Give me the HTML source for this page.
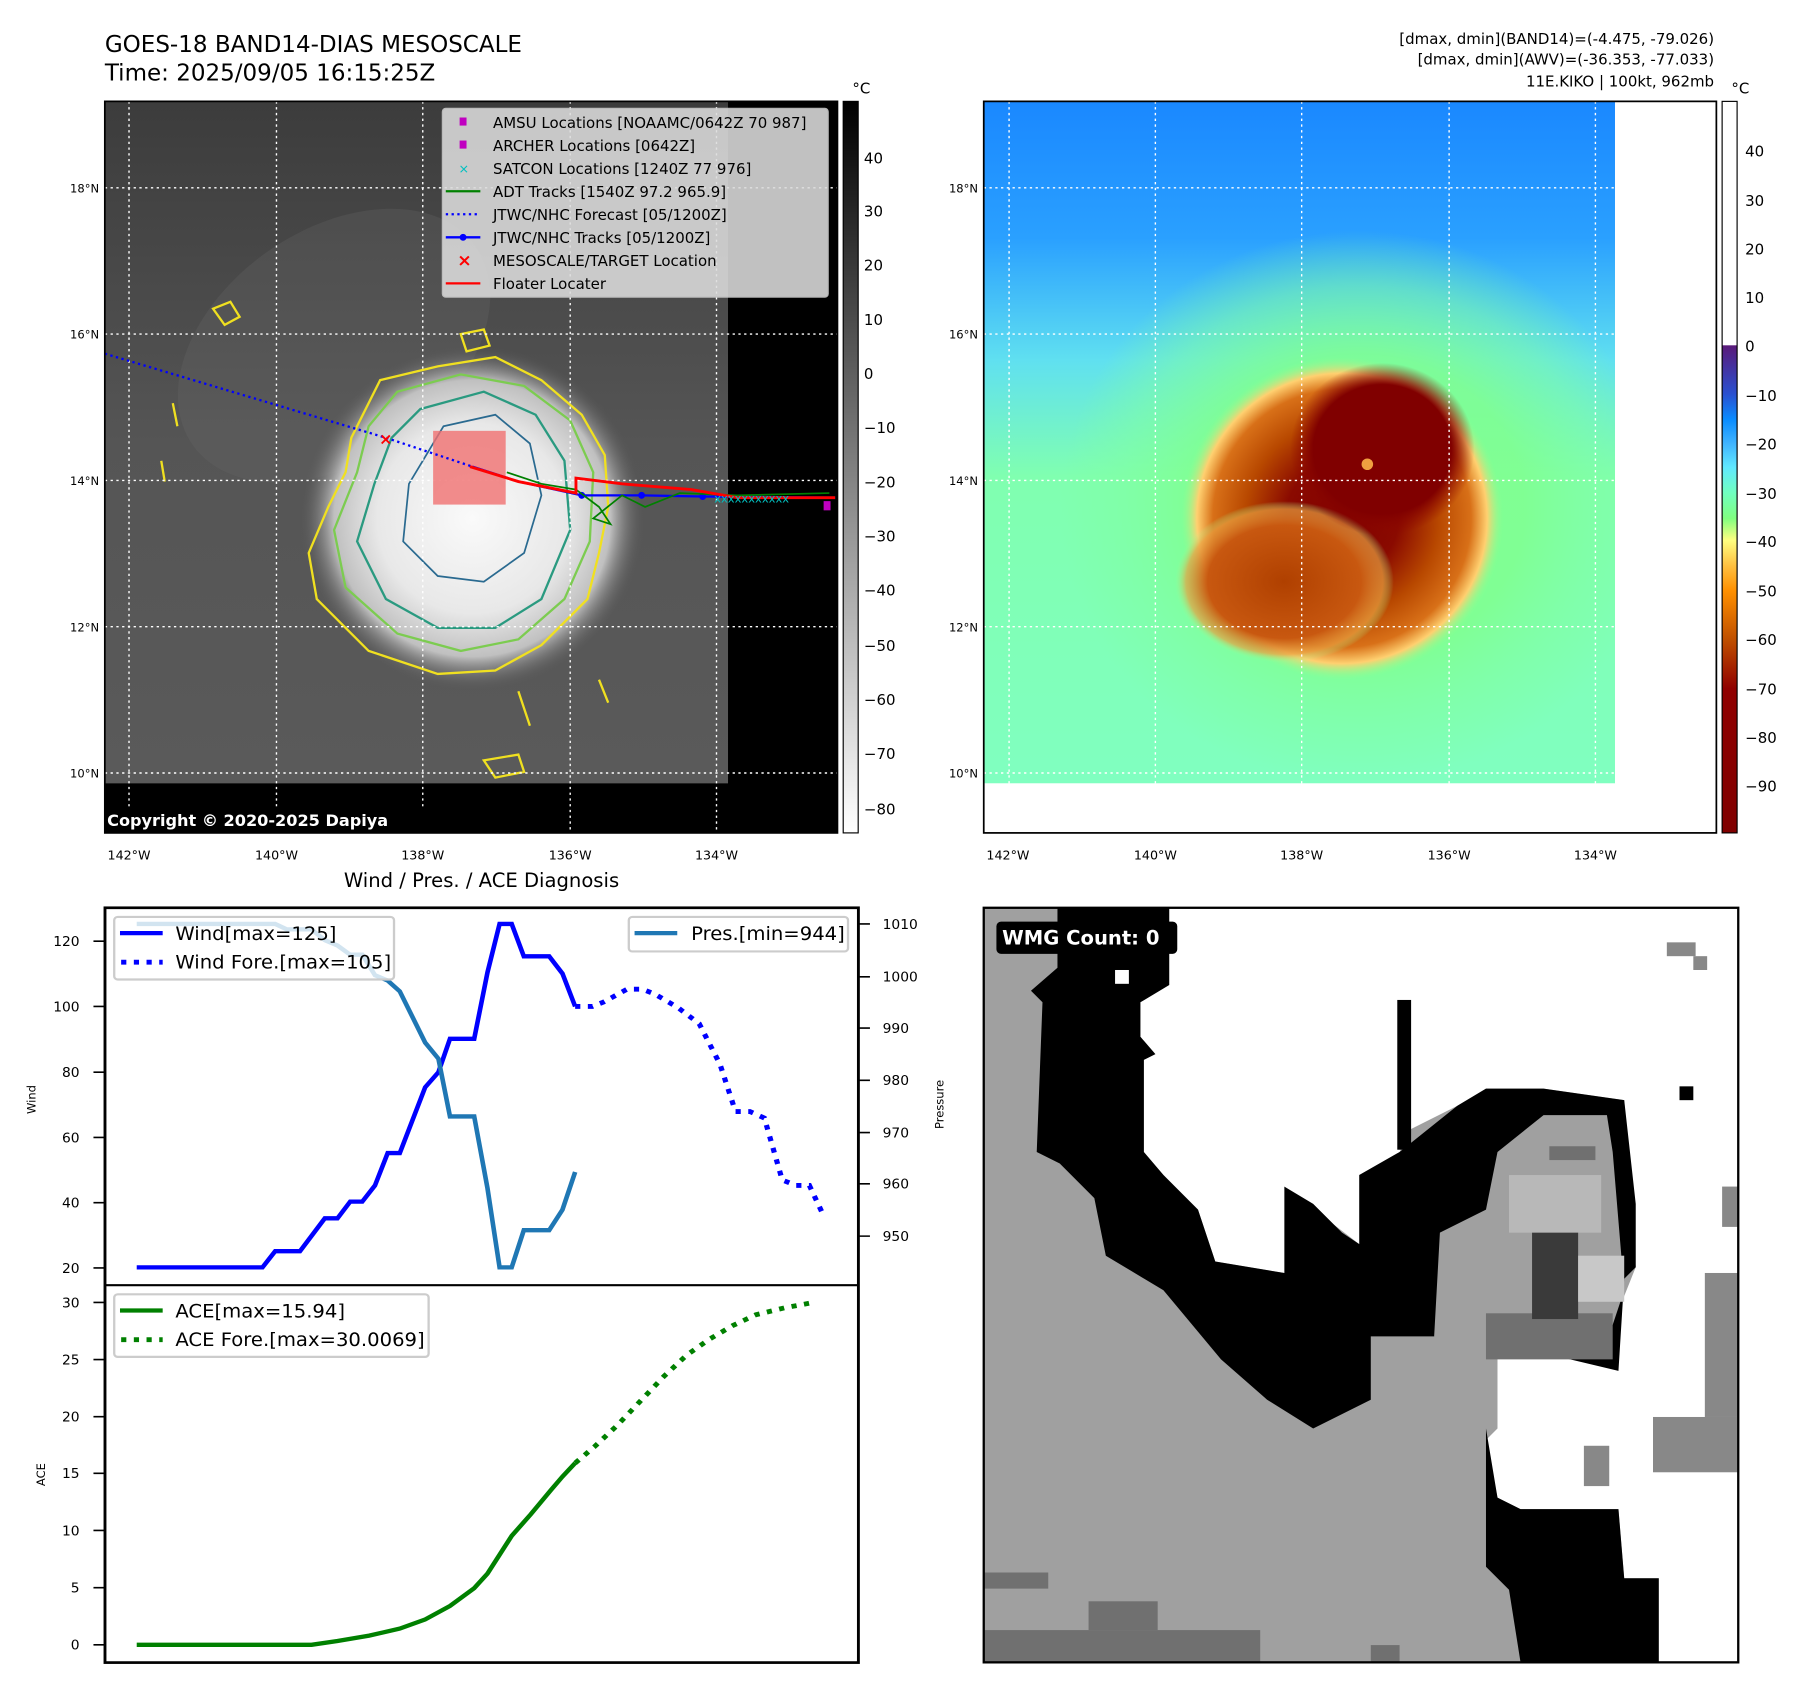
<!DOCTYPE html>
<html><head><meta charset="utf-8"><style>html,body{margin:0;padding:0;background:#fff}svg{display:block}text{font-family:"DejaVu Sans","Liberation Sans",sans-serif}</style></head>
<body>
<svg width="1797" height="1690" viewBox="0 0 1560 1467" preserveAspectRatio="none" xmlns="http://www.w3.org/2000/svg">
<defs>
<linearGradient id="cb1" x1="0" y1="0" x2="0" y2="1"><stop offset="0" stop-color="#000"/><stop offset="1" stop-color="#fff"/></linearGradient>
<linearGradient id="cb2" x1="0" y1="0" x2="0" y2="1">
<stop offset="0" stop-color="#fff"/><stop offset="0.333" stop-color="#fff"/><stop offset="0.334" stop-color="#5a1a7a"/>
<stop offset="0.40" stop-color="#2a50d0"/><stop offset="0.435" stop-color="#0a8cff"/><stop offset="0.468" stop-color="#40b4ff"/>
<stop offset="0.50" stop-color="#60e8ff"/><stop offset="0.535" stop-color="#70ffc0"/><stop offset="0.57" stop-color="#80ff80"/>
<stop offset="0.60" stop-color="#ffff80"/><stop offset="0.635" stop-color="#ffc040"/><stop offset="0.669" stop-color="#ff9000"/>
<stop offset="0.735" stop-color="#c05000"/><stop offset="0.803" stop-color="#900000"/><stop offset="1" stop-color="#800000"/></linearGradient>
<linearGradient id="m2bg" x1="0" y1="0" x2="0" y2="1">
<stop offset="0" stop-color="#1a88ff"/><stop offset="0.2" stop-color="#2aa0ff"/><stop offset="0.38" stop-color="#60e0f0"/><stop offset="0.55" stop-color="#80ffb0"/><stop offset="1" stop-color="#80ffc0"/></linearGradient>
<radialGradient id="storm2" cx="0.5" cy="0.5" r="0.5">
<stop offset="0" stop-color="#800000"/><stop offset="0.35" stop-color="#8a0a00"/><stop offset="0.6" stop-color="#b84800"/><stop offset="0.8" stop-color="#d87018"/><stop offset="0.9" stop-color="#ffd070"/><stop offset="1" stop-color="#90ff90" stop-opacity="0"/></radialGradient>
<radialGradient id="lobe2" cx="0.5" cy="0.5" r="0.5">
<stop offset="0" stop-color="#b04000"/><stop offset="0.7" stop-color="#c85810"/><stop offset="0.9" stop-color="#e8a040" stop-opacity="0.7"/><stop offset="1" stop-color="#a0ff90" stop-opacity="0"/></radialGradient>
<radialGradient id="core2" cx="0.5" cy="0.5" r="0.5">
<stop offset="0" stop-color="#800000"/><stop offset="0.75" stop-color="#800000"/><stop offset="1" stop-color="#900800" stop-opacity="0"/></radialGradient>
<radialGradient id="ring2" cx="0.5" cy="0.5" r="0.5">
<stop offset="0.55" stop-color="#80ff90" stop-opacity="0.9"/><stop offset="0.8" stop-color="#80ffa0" stop-opacity="0.5"/><stop offset="1" stop-color="#80ffa0" stop-opacity="0"/></radialGradient>
<radialGradient id="storm1" cx="0.5" cy="0.5" r="0.5">
<stop offset="0" stop-color="#fafafa"/><stop offset="0.55" stop-color="#e8e8e8"/><stop offset="0.8" stop-color="#c0c0c0"/><stop offset="1" stop-color="#555" stop-opacity="0"/></radialGradient>
<linearGradient id="m1bg" x1="0" y1="0" x2="0" y2="1"><stop offset="0" stop-color="#3c3c3c"/><stop offset="0.5" stop-color="#555"/><stop offset="1" stop-color="#5a5a5a"/></linearGradient>
<clipPath id="c2"><rect x="854" y="88" width="548" height="592"/></clipPath>
</defs>
<rect width="1560" height="1467" fill="#fff"/>
<text x="91" y="45" font-size="20">GOES-18 BAND14-DIAS MESOSCALE</text>
<text x="91" y="70" font-size="20">Time: 2025/09/05 16:15:25Z</text>
<g font-size="13" text-anchor="end">
<text x="1488" y="38">[dmax, dmin](BAND14)=(-4.475, -79.026)</text>
<text x="1488" y="56">[dmax, dmin](AWV)=(-36.353, -77.033)</text>
<text x="1488" y="75">11E.KIKO | 100kt, 962mb</text>
</g>
<!-- MAP 1 -->
<rect x="91" y="88" width="636" height="635" fill="#000"/>
<rect x="91" y="88" width="541" height="592" fill="url(#m1bg)"/>
<ellipse cx="290" cy="300" rx="150" ry="100" fill="#6a6a6a" opacity="0.25" transform="rotate(-35 290 300)"/>
<ellipse cx="410" cy="450" rx="150" ry="150" fill="url(#storm1)"/>
<path d="M330 330 L380 318 L430 310 L470 330 L505 360 L525 395 L528 440 L520 480 L510 520 L470 560 L430 582 L380 585 L320 565 L275 520 L268 480 L285 440 L300 410 L305 380 Z" fill="none" stroke="#f0e020" stroke-width="2"/>
<path d="M345 340 L400 325 L455 335 L495 365 L515 410 L512 470 L490 520 L450 555 L400 565 L345 550 L300 510 L290 460 L310 410 L320 370 Z" fill="none" stroke="#7ccc50" stroke-width="2"/>
<path d="M365 355 L420 340 L465 360 L490 400 L495 460 L470 520 L430 545 L380 545 L335 520 L310 470 L325 420 L340 380 Z" fill="none" stroke="#2a9a80" stroke-width="2"/>
<path d="M385 370 L430 360 L460 385 L470 430 L455 480 L420 505 L380 500 L350 470 L355 420 Z" fill="none" stroke="#2a6a90" stroke-width="1.5"/>
<path d="M185 268 L200 262 L208 275 L195 282 Z M400 290 L420 286 L425 300 L405 305 Z M150 350 l4 20 M140 400 l3 18 M520 590 l8 20 M450 600 l10 30 M420 660 l30 -5 l5 15 l-25 5 Z" fill="none" stroke="#f0e020" stroke-width="2"/>
<g stroke="#fff" stroke-width="1.2" stroke-dasharray="2,3">
<line x1="91" y1="163" x2="727" y2="163"/><line x1="91" y1="290" x2="727" y2="290"/><line x1="91" y1="417" x2="727" y2="417"/><line x1="91" y1="544" x2="727" y2="544"/><line x1="91" y1="671" x2="727" y2="671"/>
<line x1="112" y1="88" x2="112" y2="723"/><line x1="240" y1="88" x2="240" y2="723"/><line x1="367" y1="88" x2="367" y2="723"/><line x1="495" y1="88" x2="495" y2="723"/><line x1="622" y1="88" x2="622" y2="723"/>
</g>
<rect x="376" y="374" width="63" height="64" fill="#f07070" opacity="0.8"/>
<polyline points="91,307 335,380 410,405" fill="none" stroke="#0000ff" stroke-width="2" stroke-dasharray="2,3"/>
<polyline points="410,405 450,418 505,430 557,430 610,431 725,432" fill="none" stroke="#0000ff" stroke-width="2"/>
<g fill="#0000ff"><circle cx="505" cy="430" r="3"/><circle cx="557" cy="430" r="3"/><circle cx="610" cy="431" r="3"/></g>
<polyline points="440,410 470,420 500,425 520,440 530,455 515,450 540,430 560,440 590,428 640,430 720,428" fill="none" stroke="#008000" stroke-width="1.5"/>
<polyline points="408,405 450,418 500,428 500,415 540,420 600,425 640,432 725,432" fill="none" stroke="#ff0000" stroke-width="2.5"/>
<g fill="#00c0c0" font-size="10"><text x="620" y="436">xxxxxxxxxxx</text></g>
<text x="329" y="386" fill="#f00" font-size="14" font-weight="bold">×</text>
<rect x="715" y="435" width="6" height="8" fill="#c000c0"/>
<rect x="91" y="700" width="280" height="23" fill="#000"/>
<text x="93" y="717" font-size="14" font-weight="bold" fill="#fff">Copyright © 2020-2025 Dapiya</text>
<rect x="384" y="94" width="335" height="164" rx="3" fill="#dcdcdc" opacity="0.88" stroke="#ccc"/>
<g font-size="13">
<rect x="399" y="102" width="6" height="7" fill="#c000c0"/><text x="428" y="111">AMSU Locations [NOAAMC/0642Z 70 987]</text>
<rect x="399" y="122" width="6" height="7" fill="#c000c0"/><text x="428" y="131">ARCHER Locations [0642Z]</text>
<text x="398" y="150" fill="#00c0c0" font-size="11">×</text><text x="428" y="151">SATCON Locations [1240Z 77 976]</text>
<line x1="387" y1="166" x2="417" y2="166" stroke="#008000" stroke-width="2"/><text x="428" y="171">ADT Tracks [1540Z 97.2 965.9]</text>
<line x1="387" y1="186" x2="417" y2="186" stroke="#0000ff" stroke-width="2" stroke-dasharray="2,3"/><text x="428" y="191">JTWC/NHC Forecast [05/1200Z]</text>
<line x1="387" y1="206" x2="417" y2="206" stroke="#0000ff" stroke-width="2"/><circle cx="402" cy="206" r="3" fill="#00f"/><text x="428" y="211">JTWC/NHC Tracks [05/1200Z]</text>
<text x="397" y="231" fill="#f00" font-size="15" font-weight="bold">×</text><text x="428" y="231">MESOSCALE/TARGET Location</text>
<line x1="387" y1="246" x2="417" y2="246" stroke="#f00" stroke-width="2"/><text x="428" y="251">Floater Locater</text>
</g>
<rect x="91" y="88" width="636" height="635" fill="none" stroke="#000" stroke-width="1.5"/>
<rect x="732" y="88" width="13" height="635" fill="url(#cb1)" stroke="#000"/>
<text x="740" y="81" font-size="13">°C</text>
<g font-size="13">
<text x="750" y="142">40</text><text x="750" y="188">30</text><text x="750" y="235">20</text><text x="750" y="282">10</text><text x="750" y="329">0</text>
<text x="750" y="376">−10</text><text x="750" y="423">−20</text><text x="750" y="470">−30</text><text x="750" y="517">−40</text><text x="750" y="565">−50</text><text x="750" y="612">−60</text><text x="750" y="659">−70</text><text x="750" y="707">−80</text>
</g>
<g font-size="10" text-anchor="end"><text x="86" y="167">18°N</text><text x="86" y="294">16°N</text><text x="86" y="421">14°N</text><text x="86" y="548">12°N</text><text x="86" y="675">10°N</text>
<text x="849" y="167">18°N</text><text x="849" y="294">16°N</text><text x="849" y="421">14°N</text><text x="849" y="548">12°N</text><text x="849" y="675">10°N</text></g>
<g font-size="11" text-anchor="middle"><text x="112" y="746">142°W</text><text x="240" y="746">140°W</text><text x="367" y="746">138°W</text><text x="495" y="746">136°W</text><text x="622" y="746">134°W</text>
<text x="875" y="746">142°W</text><text x="1003" y="746">140°W</text><text x="1130" y="746">138°W</text><text x="1258" y="746">136°W</text><text x="1385" y="746">134°W</text></g>
<!-- MAP 2 -->
<g clip-path="url(#c2)">
<rect x="854" y="88" width="548" height="592" fill="url(#m2bg)"/>
<ellipse cx="1180" cy="440" rx="260" ry="240" fill="url(#ring2)"/>
<ellipse cx="1165" cy="450" rx="140" ry="140" fill="url(#storm2)"/>
<ellipse cx="1115" cy="505" rx="95" ry="70" fill="url(#lobe2)"/>
<ellipse cx="1200" cy="390" rx="80" ry="75" fill="url(#core2)"/>
<circle cx="1187" cy="403" r="5" fill="#f0a040"/>
</g>
<g stroke="#fff" stroke-width="1.2" stroke-dasharray="2,3">
<line x1="854" y1="163" x2="1402" y2="163"/><line x1="854" y1="290" x2="1402" y2="290"/><line x1="854" y1="417" x2="1402" y2="417"/><line x1="854" y1="544" x2="1402" y2="544"/><line x1="854" y1="671" x2="1402" y2="671"/>
<line x1="876" y1="88" x2="876" y2="680"/><line x1="1003" y1="88" x2="1003" y2="680"/><line x1="1130" y1="88" x2="1130" y2="680"/><line x1="1258" y1="88" x2="1258" y2="680"/><line x1="1385" y1="88" x2="1385" y2="680"/>
</g>
<rect x="854" y="88" width="636" height="635" fill="none" stroke="#000" stroke-width="1.5"/>
<rect x="1495" y="88" width="13" height="635" fill="url(#cb2)" stroke="#000"/>
<text x="1503" y="81" font-size="13">°C</text>
<g font-size="13">
<text x="1515" y="136">40</text><text x="1515" y="179">30</text><text x="1515" y="221">20</text><text x="1515" y="263">10</text><text x="1515" y="305">0</text>
<text x="1515" y="348">−10</text><text x="1515" y="390">−20</text><text x="1515" y="433">−30</text><text x="1515" y="475">−40</text><text x="1515" y="518">−50</text><text x="1515" y="560">−60</text><text x="1515" y="603">−70</text><text x="1515" y="645">−80</text><text x="1515" y="687">−90</text>
</g>
<!-- Bottom left -->
<text x="418" y="770" font-size="17" text-anchor="middle">Wind / Pres. / ACE Diagnosis</text>
<g transform="translate(0,741.2) scale(0.5008,0.468)">
<rect x="182" y="100" width="1306" height="1400" fill="#fff"/>
<polyline points="237,767 455,767 477,737 520,737 563,676 585,676 607,645 628,645 650,615 672,555 693,555 737,433 760,405 780,343 822,343 845,220 866,130 887,130 908,190 952,190 975,222 997,283" fill="none" stroke="#0000ff" stroke-width="8"/>
<polyline points="997,283 1027,283 1046,275 1087,251 1113,251 1135,260 1175,285 1212,315 1248,390 1275,478 1300,478 1325,490 1356,605 1380,615 1403,615 1425,665" fill="none" stroke="#0000ff" stroke-width="9" stroke-dasharray="9,13"/>
<polyline points="237,130 477,130 497,140 540,140 563,160 585,170 607,187 628,187 650,225 672,235 693,255 737,350 760,380 780,487 822,487 845,620 866,767 887,767 908,698 952,698 975,660 997,590" fill="none" stroke="#1f77b4" stroke-width="8"/>
<polyline points="237,1467 540,1467 585,1460 640,1450 693,1437 737,1420 780,1395 822,1362 845,1335 866,1300 887,1265 920,1225 955,1180 975,1155 997,1130" fill="none" stroke="#008000" stroke-width="8"/>
<polyline points="997,1130 1030,1100 1070,1060 1110,1015 1150,970 1190,930 1230,900 1270,875 1310,855 1360,842 1410,832" fill="none" stroke="#008000" stroke-width="9" stroke-dasharray="9,13"/>
<rect x="198" y="117" width="485" height="116" rx="6" fill="#fff" fill-opacity="0.8" stroke="#ccc" stroke-width="4"/>
<line x1="208" y1="147" x2="282" y2="147" stroke="#00f" stroke-width="8"/>
<line x1="210" y1="201" x2="282" y2="201" stroke="#00f" stroke-width="9" stroke-dasharray="9,13"/>
<rect x="1090" y="117" width="380" height="64" rx="6" fill="#fff" fill-opacity="0.8" stroke="#ccc" stroke-width="4"/>
<line x1="1100" y1="147" x2="1174" y2="147" stroke="#1f77b4" stroke-width="8"/>
<rect x="198" y="817" width="545" height="116" rx="6" fill="#fff" fill-opacity="0.8" stroke="#ccc" stroke-width="4"/>
<line x1="208" y1="847" x2="282" y2="847" stroke="#008000" stroke-width="8"/>
<line x1="210" y1="901" x2="282" y2="901" stroke="#008000" stroke-width="9" stroke-dasharray="9,13"/>
<g font-size="34"><text x="304" y="160">Wind[max=125]</text><text x="304" y="213">Wind Fore.[max=105]</text>
<text x="1198" y="160">Pres.[min=944]</text><text x="304" y="860">ACE[max=15.94]</text><text x="304" y="913">ACE Fore.[max=30.0069]</text></g>
<line x1="182" y1="800" x2="1488" y2="800" stroke="#000" stroke-width="4"/>
<rect x="182" y="100" width="1306" height="1400" fill="none" stroke="#000" stroke-width="5"/>
<g stroke="#000" stroke-width="3">
<path d="M162 162h20M162 283h20M162 405h20M162 526h20M162 647h20M162 768h20M162 832h20M162 938h20M162 1044h20M162 1149h20M162 1255h20M162 1361h20M162 1467h20M1488 130h20M1488 228h20M1488 323h20M1488 420h20M1488 517h20M1488 612h20M1488 709h20"/></g>
<g font-size="24" text-anchor="end"><text x="138" y="171">120</text><text x="138" y="292">100</text><text x="138" y="414">80</text><text x="138" y="535">60</text><text x="138" y="656">40</text><text x="138" y="777">20</text>
<text x="138" y="841">30</text><text x="138" y="947">25</text><text x="138" y="1053">20</text><text x="138" y="1158">15</text><text x="138" y="1264">10</text><text x="138" y="1370">5</text><text x="138" y="1476">0</text></g>
<g font-size="24"><text x="1530" y="139">1010</text><text x="1530" y="237">1000</text><text x="1530" y="332">990</text><text x="1530" y="429">980</text><text x="1530" y="526">970</text><text x="1530" y="621">960</text><text x="1530" y="718">950</text></g>
</g>
<text font-size="10" transform="translate(31,967) rotate(-90)">Wind</text>
<text font-size="10" transform="translate(39,1290) rotate(-90)">ACE</text>
<text font-size="10" transform="translate(819,980) rotate(-90)">Pressure</text>
<!-- Bottom right -->
<rect x="854" y="788" width="655" height="655" fill="#a0a0a0"/>
<polygon points="1015,788 1509,788 1509,1443 1440,1443 1440,1370 1410,1370 1405,1310 1320,1310 1300,1300 1290,1250 1300,1240 1300,1160 1400,1150 1420,1100 1410,955 1340,945 1290,945 1265,960 1225,980 1215,1000 1180,1020 1180,1080 1115,1030 1115,1105 1055,1095 1040,1050 1010,1020 993,1000 993,920 1003,915 990,900 990,870 1015,855" fill="#fff"/>
<polygon points="918,788 1015,788 1015,855 990,870 990,900 1003,915 993,920 993,1000 1010,1020 1040,1050 1055,1095 1115,1105 1115,1030 1140,1045 1165,1070 1180,1080 1180,1020 1215,1000 1265,960 1290,945 1340,945 1410,955 1420,1045 1420,1100 1410,1110 1405,1190 1300,1165 1250,1160 1190,1160 1190,1215 1140,1240 1100,1215 1060,1180 1010,1120 960,1090 950,1040 920,1010 900,1000 905,870 895,860 918,840" fill="#000"/>
<rect x="1213" y="868" width="12" height="130" fill="#000"/>
<polygon points="1300,1000 1340,968 1395,968 1400,1000 1410,1120 1400,1150 1290,1170 1245,1160 1250,1070 1290,1050" fill="#a0a0a0"/>
<rect x="1290" y="1140" width="110" height="40" fill="#707070"/>
<rect x="1330" y="1065" width="40" height="80" fill="#3a3a3a"/>
<rect x="1310" y="1020" width="80" height="50" fill="#b8b8b8"/>
<rect x="1345" y="995" width="40" height="12" fill="#707070"/>
<rect x="1370" y="1090" width="40" height="40" fill="#c8c8c8"/>
<polygon points="1290,1240 1300,1300 1320,1310 1405,1310 1410,1370 1440,1370 1440,1443 1320,1443 1310,1380 1290,1360" fill="#000"/>
<rect x="1458" y="943" width="12" height="12" fill="#000"/>
<rect x="968" y="842" width="12" height="12" fill="#fff"/>
<g fill="#707070"><rect x="854" y="1365" width="56" height="14"/><rect x="854" y="1415" width="240" height="28"/><rect x="945" y="1390" width="60" height="25"/><rect x="1190" y="1428" width="25" height="15"/></g>
<g fill="#888"><rect x="1495" y="1030" width="14" height="35"/><rect x="1480" y="1105" width="29" height="125"/><rect x="1435" y="1230" width="74" height="48"/><rect x="1375" y="1255" width="22" height="35"/><rect x="1447" y="818" width="25" height="12"/><rect x="1470" y="830" width="12" height="12"/></g>
<rect x="854" y="788" width="655" height="655" fill="none" stroke="#000" stroke-width="2"/>
<rect x="865" y="800" width="157" height="28" rx="4" fill="#000"/>
<text x="870" y="820" font-size="17" font-weight="bold" fill="#fff">WMG Count: 0</text>
</svg>
</body></html>
